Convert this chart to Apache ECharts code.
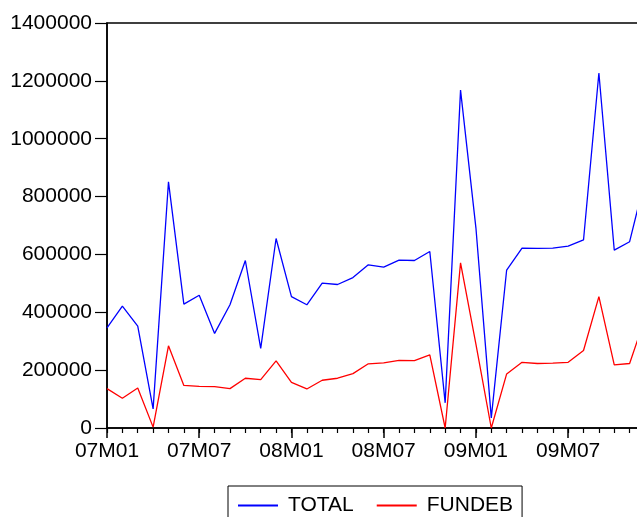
<!DOCTYPE html>
<html>
<head>
<meta charset="utf-8">
<script src="https://cdn.jsdelivr.net/npm/echarts@6/dist/echarts.min.js"></script>
<style>
html, body { margin: 0; padding: 0; background: #fff; }
#main { width: 637px; height: 517px; }
</style>
</head>
<body>
<div id="main"></div>
<script>
var months = ['07M01','07M02','07M03','07M04','07M05','07M06','07M07','07M08','07M09','07M10','07M11','07M12',
              '08M01','08M02','08M03','08M04','08M05','08M06','08M07','08M08','08M09','08M10','08M11','08M12',
              '09M01','09M02','09M03','09M04','09M05','09M06','09M07','09M08','09M09','09M10','09M11','09M12'];
var total = [346000, 421000, 352000, 66000, 851000, 428000, 459000, 327000, 426000, 579000, 275000, 655000,
             454000, 426000, 501000, 496000, 520000, 564000, 556000, 580000, 579000, 610000, 87000, 1168000,
             692000, 35000, 546000, 622000, 621000, 622000, 629000, 650000, 1227000, 615000, 644000, 860000];
var fundeb = [136000, 103000, 138000, 3000, 284000, 147000, 144000, 143000, 136000, 172000, 167000, 232000,
              158000, 135000, 165000, 172000, 188000, 222000, 225000, 234000, 233000, 253000, 0, 571000,
              290000, 0, 187000, 227000, 223000, 224000, 227000, 268000, 454000, 218000, 223000, 380000];

var font = 'Liberation Sans, Arial, sans-serif';
var myChart = echarts.init(document.getElementById('main'));
var option = {
    backgroundColor: '#fff',
    animation: false,
    grid: {
        left: 107,
        top: 23,
        width: 538,
        height: 405,
        outerBoundsMode: 'none',
        containLabel: false,
        show: true,
        borderColor: '#000',
        borderWidth: 1.5
    },
    legend: {
        left: 228,
        top: 486,
        padding: [9, 9, 9, 10],
        borderColor: '#000',
        borderWidth: 1,
        itemGap: 23,
        itemWidth: 40,
        itemHeight: 2,
        icon: 'rect',
        textStyle: { fontFamily: font, fontSize: 21, color: '#000', padding: [0, 0, 0, 5] },
        data: ['TOTAL', 'FUNDEB']
    },
    xAxis: [
        {
            type: 'category',
            boundaryGap: false,
            data: months,
            axisLine: { lineStyle: { color: '#000', width: 1.5 } },
            axisTick: {
                length: 10,
                interval: function (i) { return i % 6 === 0; },
                lineStyle: { color: '#000', width: 1.5 }
            },
            axisLabel: {
                interval: function (i) { return i % 6 === 0; },
                margin: 13,
                fontFamily: font,
                fontSize: 21,
                color: '#000'
            },
            splitLine: { show: false }
        },
        {
            type: 'category',
            position: 'bottom',
            boundaryGap: false,
            data: months,
            axisLine: { show: false },
            axisTick: { length: 5, interval: 0, lineStyle: { color: '#000', width: 1.2 } },
            axisLabel: { show: false },
            splitLine: { show: false }
        }
    ],
    yAxis: {
        type: 'value',
        min: 0,
        max: 1400000,
        interval: 200000,
        axisLine: { show: true, lineStyle: { color: '#000', width: 1.5 } },
        axisTick: { show: true, length: 12, lineStyle: { color: '#000', width: 1.2 } },
        axisLabel: {
            margin: 15,
            fontFamily: font,
            fontSize: 21,
            color: '#000',
            formatter: function (v) { return String(v); }
        },
        splitLine: { show: false }
    },
    series: [
        {
            name: 'TOTAL',
            type: 'line',
            data: total,
            symbol: 'none',
            color: '#0000ff',
            lineStyle: { color: '#0000ff', width: 1.3 }
        },
        {
            name: 'FUNDEB',
            type: 'line',
            data: fundeb,
            symbol: 'none',
            color: '#ff0000',
            lineStyle: { color: '#ff0000', width: 1.3 }
        }
    ]
};
myChart.setOption(option);
</script>
</body>
</html>
